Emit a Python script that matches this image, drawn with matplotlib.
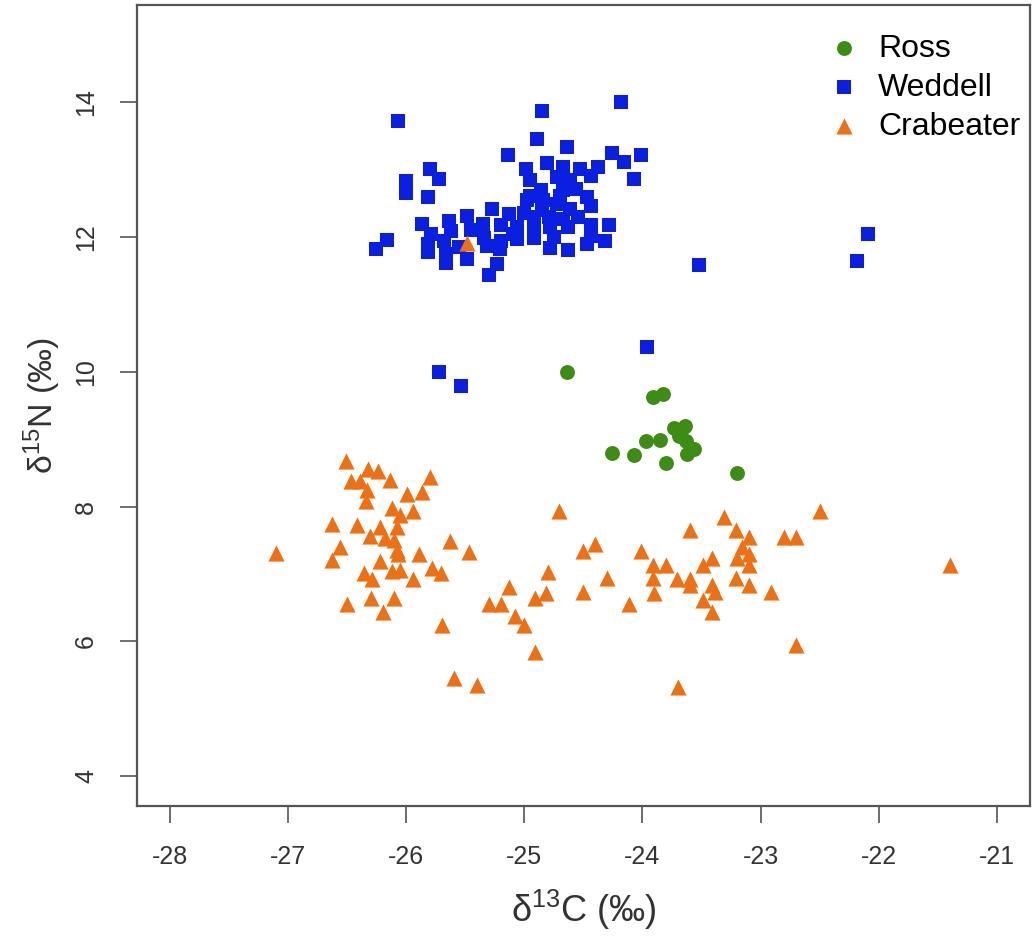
import matplotlib
matplotlib.use("Agg")
import matplotlib.pyplot as plt

plt.rcParams["font.family"] = ["Liberation Sans", "DejaVu Sans"]
plt.rcParams["mathtext.fontset"] = "custom"
plt.rcParams["mathtext.rm"] = "Liberation Sans"
plt.rcParams["mathtext.it"] = "Liberation Sans:italic"

# --- data (d13C, d15N in per mil) ---
ross_c = [-24.64, -23.91, -23.83, -23.73, -23.64, -23.69, -23.63, -23.97,
          -23.85, -24.26, -24.07, -23.62, -23.56, -23.80, -23.20, -23.67]
ross_n = [9.99, 9.62, 9.67, 9.17, 9.20, 9.05, 8.97, 8.97,
          8.98, 8.80, 8.77, 8.78, 8.85, 8.65, 8.50, 9.12]

weddell_c = [-26.07, -24.85, -24.18, -24.89, -24.64, -25.14, -24.26, -24.01,
             -25.80, -25.72, -26.00, -26.00, -25.82, -24.99, -24.81, -24.67,
             -24.53, -24.38, -24.16, -24.07, -24.95, -24.72, -24.61, -24.44,
             -24.86, -24.67, -24.56, -24.47, -24.44, -24.98, -24.84, -24.72,
             -24.61, -25.27, -25.13, -25.00, -24.92, -24.79, -24.67, -25.49,
             -25.64, -25.87, -25.79, -25.62, -25.35, -25.20, -25.06, -24.92,
             -24.78, -24.63, -24.44, -24.28, -25.82, -25.68, -25.34, -25.20,
             -25.06, -24.92, -24.44, -24.32, -25.82, -25.66, -25.32, -25.21,
             -24.78, -24.63, -24.47, -25.66, -25.49, -25.23, -25.30, -26.16,
             -26.26, -22.18, -22.09, -23.52, -23.96, -25.72, -25.54,
             -25.10, -24.85, -24.75, -25.45, -25.55, -24.55, -24.95, -24.70]
weddell_n = [13.72, 13.86, 14.00, 13.45, 13.33, 13.21, 13.24, 13.22,
             13.01, 12.86, 12.83, 12.65, 12.59, 13.01, 13.09, 13.03,
             13.01, 13.03, 13.11, 12.86, 12.84, 12.89, 12.84, 12.91,
             12.69, 12.69, 12.71, 12.59, 12.46, 12.54, 12.54, 12.49,
             12.41, 12.41, 12.34, 12.36, 12.29, 12.29, 12.27, 12.31,
             12.24, 12.19, 12.04, 12.09, 12.19, 12.17, 12.14, 12.12,
             12.14, 12.14, 12.17, 12.17, 11.89, 11.94, 11.99, 11.94,
             11.97, 11.99, 12.02, 11.94, 11.77, 11.74, 11.87, 11.82,
             11.84, 11.80, 11.89, 11.62, 11.67, 11.60, 11.43, 11.96,
             11.82, 11.64, 12.04, 11.58, 10.36, 10.00, 9.79,
             12.05, 12.40, 12.00, 12.10, 11.85, 12.30, 12.60, 12.60]

crab_c = [-27.10, -26.51, -26.32, -26.24, -26.47, -26.39, -26.14, -25.80,
          -26.33, -26.34, -25.99, -25.87, -26.12, -26.05, -25.94, -26.63,
          -26.42, -26.22, -26.08, -26.31, -26.18, -26.10, -26.56, -26.08,
          -26.63, -26.22, -26.07, -25.89, -25.63, -25.47, -26.36, -26.29,
          -26.12, -26.05, -25.94, -25.78, -25.71, -26.50, -26.30, -26.10,
          -26.20, -25.70, -25.60, -25.40, -25.30, -25.20, -25.13, -25.08,
          -25.00, -24.91, -24.91, -24.82, -24.80, -24.71, -24.50, -24.40,
          -24.50, -24.30, -24.11, -24.01, -23.31, -22.50, -23.60, -23.21,
          -23.10, -22.80, -22.70, -23.91, -23.80, -23.49, -23.41, -23.20,
          -23.10, -23.10, -23.91, -23.71, -23.60, -23.41, -23.21, -23.10,
          -23.90, -23.60, -23.49, -23.39, -22.91, -23.41, -22.70, -23.70,
          -21.40, -23.16, -25.49]
crab_n = [7.31, 8.67, 8.55, 8.53, 8.38, 8.38, 8.39, 8.44,
          8.24, 8.08, 8.19, 8.21, 7.98, 7.88, 7.94, 7.74,
          7.73, 7.69, 7.69, 7.56, 7.54, 7.51, 7.40, 7.36,
          7.20, 7.19, 7.29, 7.29, 7.49, 7.32, 7.02, 6.92,
          7.04, 7.06, 6.93, 7.09, 7.02, 6.55, 6.64, 6.64,
          6.44, 6.24, 5.45, 5.35, 6.55, 6.55, 6.80, 6.37,
          6.24, 5.84, 6.64, 6.72, 7.03, 7.94, 7.34, 7.45,
          6.74, 6.94, 6.55, 7.34, 7.84, 7.94, 7.65, 7.65,
          7.55, 7.55, 7.55, 7.13, 7.13, 7.14, 7.24, 7.24,
          7.29, 7.13, 6.94, 6.93, 6.93, 6.84, 6.94, 6.83,
          6.72, 6.84, 6.62, 6.74, 6.73, 6.44, 5.94, 5.33,
          7.13, 7.40, 11.91]

x_ticks = [-28, -27, -26, -25, -24, -23, -22, -21]
y_ticks = [4, 6, 8, 10, 12, 14]

GREEN = "#3d8c14"
BLUE = "#0a1fe0"
ORANGE = "#ed7014"
AXIS_GREY = "#555555"
TEXT = "#333333"


def main():
    fig = plt.figure(figsize=(10.34, 9.36), dpi=100)
    ax = fig.add_axes([0.1325, 0.139, 0.8635, 0.8557])

    ax.scatter(ross_c, ross_n, marker="o", s=115, color=GREEN,
               linewidths=0, label="Ross", zorder=3)
    ax.scatter(weddell_c, weddell_n, marker="s", s=100, color=BLUE,
               linewidths=0, label="Weddell", zorder=3)
    ax.scatter(crab_c, crab_n, marker="^", s=135, color=ORANGE,
               linewidths=0, label="Crabeater", zorder=4)

    # R-style 4% padding around the data range
    ax.set_xlim(-28.28, -20.72)
    ax.set_ylim(3.56, 15.44)
    ax.set_xticks(x_ticks)
    ax.set_yticks(y_ticks)
    ax.set_xticklabels([str(v) for v in x_ticks])
    ax.set_yticklabels([str(v) for v in y_ticks], rotation=90, va="center")

    for sp in ax.spines.values():
        sp.set_color(AXIS_GREY)
        sp.set_linewidth(1.6)
    ax.tick_params(axis="both", direction="out", length=12, width=1.2,
                   color=AXIS_GREY, labelsize=18, labelcolor=TEXT)
    ax.tick_params(axis="x", pad=16)
    ax.tick_params(axis="y", pad=16)

    ax.set_xlabel("δ$^{13}$C (‰)", fontsize=26, color=TEXT, labelpad=14)
    ax.set_ylabel("δ$^{15}$N (‰)", fontsize=24.5, color=TEXT, labelpad=8)

    ax.legend(loc="upper right", frameon=False, fontsize=23,
              handletextpad=0.45, labelspacing=0.28, borderaxespad=0.0,
              borderpad=0.3, markerscale=1.0, handlelength=1.2,
              bbox_to_anchor=(1.0, 0.976))

    fig.savefig("out.png", dpi=100)
    plt.close(fig)


if __name__ == "__main__":
    main()
